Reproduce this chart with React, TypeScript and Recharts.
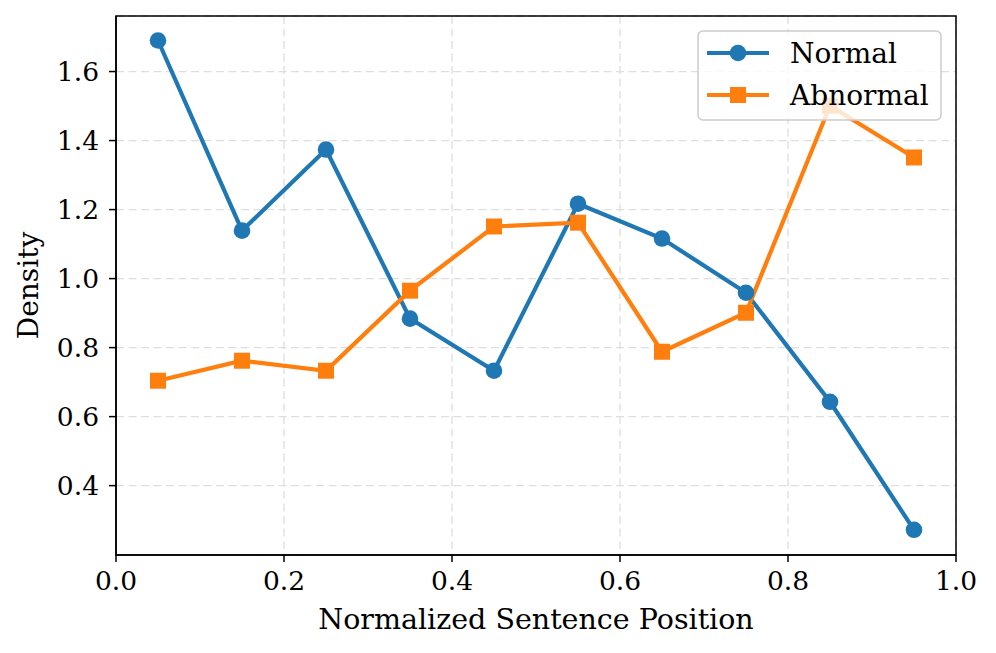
import React from 'react';
import { LineChart, Line, XAxis, YAxis, CartesianGrid, ReferenceArea } from 'recharts';

const positions = [0.05, 0.15, 0.25, 0.35, 0.45, 0.55, 0.65, 0.75, 0.85, 0.95];
const normalValues = [1.69, 1.139, 1.374, 0.884, 0.733, 1.217, 1.116, 0.959, 0.643, 0.272];
const abnormalValues = [0.704, 0.762, 0.733, 0.965, 1.151, 1.162, 0.788, 0.901, 1.501, 1.351];
const xTicks = [0, 0.2, 0.4, 0.6, 0.8, 1.0];
const yTicks = [0.4, 0.6, 0.8, 1.0, 1.2, 1.4, 1.6];

const data = positions.map((p, i) => ({ x: p, normal: normalValues[i], abnormal: abnormalValues[i] }));

const FONT = '"DejaVu Serif", serif';
const BLUE = '#1f77b4';
const ORANGE = '#ff7f0e';
const Y_MIN = 0.199;
const Y_MAX = 1.761;

const SquareDot = (props: any) => {
  const { cx, cy, index } = props;
  if (cx == null || cy == null) return <g key={`sq-${index}`} />;
  return <rect key={`sq-${index}`} x={cx - 8} y={cy - 8} width={16} height={16} fill={ORANGE} />;
};

const LegendBox = () => (
  <svg width={246} height={92} style={{ position: 'absolute', left: 697, top: 30 }}>
    <rect x={1} y={1} width={243} height={89} rx={5} ry={5} fill="rgba(255,255,255,0.8)" stroke="#cccccc" strokeWidth={1.5} />
    <line x1={10} x2={72} y1={23} y2={23} stroke={BLUE} strokeWidth={4.2} />
    <circle cx={41} cy={23} r={8.3} fill={BLUE} />
    <line x1={10} x2={72} y1={65} y2={65} stroke={ORANGE} strokeWidth={4.2} />
    <rect x={33} y={57} width={16} height={16} fill={ORANGE} />
    <text x={93} y={23} dy="0.36em" fontFamily={FONT} fontSize={28} fill="#000">Normal</text>
    <text x={93} y={65} dy="0.36em" fontFamily={FONT} fontSize={28} fill="#000">Abnormal</text>
  </svg>
);

export default function App() {
  return (
    <div style={{ position: 'absolute', left: 0, top: 0, width: 996, height: 653, background: '#fff' }}>
      <LineChart width={996} height={653} data={data} margin={{ top: 16, right: 40, left: 0, bottom: 0 }}>
        <CartesianGrid stroke="#dedede" strokeDasharray="8 4.5" strokeWidth={1.3} />
        <XAxis
          dataKey="x"
          type="number"
          domain={[0, 1]}
          ticks={xTicks}
          tickFormatter={(v: number) => v.toFixed(1)}
          height={98}
          stroke="#000"
          strokeWidth={1.5}
          tickSize={7}
          tickMargin={9}
          tick={{ fontFamily: FONT, fontSize: 26.5, fill: '#000' }}
          label={{
            content: (p: any) => {
              const vb = p.viewBox;
              return (
                <text x={vb.x + vb.width / 2} y={629} textAnchor="middle" fontFamily={FONT} fontSize={28.5} fill="#000">
                  Normalized Sentence Position
                </text>
              );
            },
          }}
        />
        <YAxis
          type="number"
          domain={[Y_MIN, Y_MAX]}
          ticks={yTicks}
          tickFormatter={(v: number) => v.toFixed(1)}
          width={116}
          stroke="#000"
          strokeWidth={1.5}
          tickSize={7}
          tickMargin={10}
          allowDataOverflow
          tick={{ fontFamily: FONT, fontSize: 26.5, fill: '#000' }}
          label={{
            content: (p: any) => {
              const vb = p.viewBox;
              const cy = vb.y + vb.height / 2;
              return (
                <text x={38} y={cy} textAnchor="middle" transform={`rotate(-90, 38, ${cy})`} fontFamily={FONT} fontSize={28} fill="#000">
                  Density
                </text>
              );
            },
          }}
        />
        <ReferenceArea x1={0} x2={1} y1={Y_MIN} y2={Y_MAX} fill="none" stroke="#000" strokeWidth={1.5} fillOpacity={0} />
        <Line
          dataKey="normal"
          stroke={BLUE}
          strokeWidth={4.2}
          dot={{ r: 8.3, fill: BLUE, stroke: BLUE, strokeWidth: 0 }}
          activeDot={false}
          isAnimationActive={false}
        />
        <Line
          dataKey="abnormal"
          stroke={ORANGE}
          strokeWidth={4.2}
          dot={SquareDot}
          activeDot={false}
          isAnimationActive={false}
        />
      </LineChart>
      <LegendBox />
    </div>
  );
}
